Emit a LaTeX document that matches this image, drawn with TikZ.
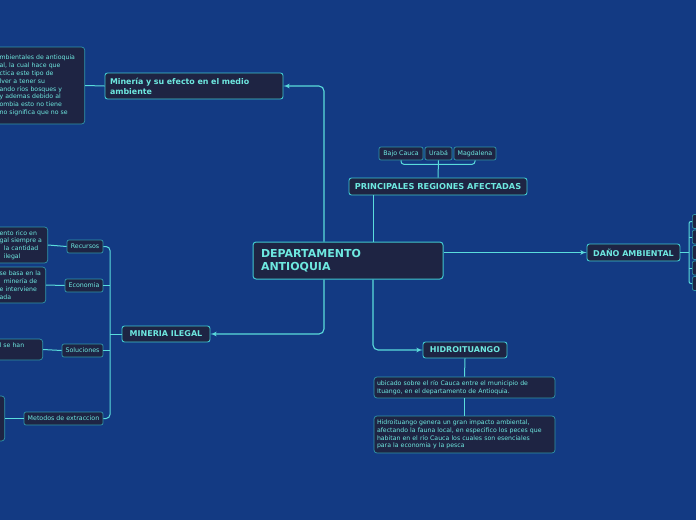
\documentclass[tikz,border=0pt]{standalone}
\usepackage{fontspec}
\setmainfont{DejaVu Sans}
\usetikzlibrary{shapes,arrows}
\definecolor{fondo}{RGB}{19,58,131}
\definecolor{caja}{RGB}{30,36,67}
\definecolor{letra}{RGB}{110,232,224}
\definecolor{borde}{RGB}{64,200,208}
\definecolor{bordechico}{RGB}{48,150,168}
\definecolor{linea}{RGB}{90,220,220}
\tikzstyle{raiz} = [rectangle, draw=borde, fill=caja, text=letra, line width=1pt,
    rounded corners=3pt, inner xsep=8pt, inner ysep=0pt, align=left,
    font=\fontsize{11}{13}\selectfont\bfseries]
\tikzstyle{tema} = [rectangle, draw=borde, fill=caja, text=letra, line width=0.9pt,
    rounded corners=2.5pt, inner sep=0pt, font=\fontsize{8}{10}\selectfont\bfseries]
\tikzstyle{etiqueta} = [rectangle, draw=bordechico, fill=caja, text=letra, line width=0.7pt,
    rounded corners=2pt, inner sep=0pt, font=\fontsize{6.3}{7.5}\selectfont]
\tikzstyle{nota} = [rectangle, draw=bordechico, fill=caja, text=letra, line width=0.7pt,
    rounded corners=3pt, inner xsep=3pt, inner ysep=0pt, align=left,
    font=\fontsize{6.2}{7.8}\selectfont]
\tikzstyle{line} = [draw=linea, line width=1.1pt, -latex']
\tikzstyle{rama} = [draw=linea, line width=1pt, rounded corners=4pt]

\begin{document}
\begin{tikzpicture}[x=1pt, y=-1pt]
    \useasboundingbox (0,0) rectangle (696,520);
    \fill [fondo] (0,0) rectangle (696,520);
    \clip (0,0) rectangle (696,520);
    % Place nodes
    \node [raiz, minimum width=190pt, minimum height=37pt, text width=174pt] (depto) at (348,260.5) {DEPARTAMENTO\\ANTIOQUIA};
    \node [tema, minimum width=178pt, minimum height=26pt, inner xsep=5pt, text width=168pt, align=left,
        font=\fontsize{7.9}{10}\selectfont\bfseries] (medio) at (194,86) {Minería y su efecto en el medio\\ambiente};
    \node [nota, anchor=east, text width=82pt, minimum height=77pt] (notamedio) at (85,85.5)
        {mbientales de antioquia\\al, la cual hace que\\ctica este tipo de\\lver a tener su\\ando ríos bosques y\\ y ademas debido al\\ombia esto no tiene\\no significa que no se};
    \node [tema, minimum width=178pt, minimum height=17pt, font=\fontsize{8.2}{10}\selectfont\bfseries] (regiones) at (438,186.5) {PRINCIPALES REGIONES AFECTADAS};
    \node [etiqueta, minimum width=44pt, minimum height=13pt] (bajo) at (401,153.5) {Bajo Cauca};
    \node [etiqueta, minimum width=27pt, minimum height=13pt] (uraba) at (438.5,153.5) {Urabá};
    \node [etiqueta, minimum width=42pt, minimum height=13pt] (magdalena) at (475,153.5) {Magdalena};
    \node [tema, minimum width=93pt, minimum height=17pt] (dano) at (633.5,252.5) {DAÑO AMBIENTAL};
    \foreach \i/\y in {1/221.5,2/237,3/252.5,4/268,5/283.5}
        \node [etiqueta, anchor=west, minimum width=30pt, minimum height=14pt] (dano\i) at (692,\y) {};
    \node [tema, minimum width=88pt, minimum height=16pt] (ilegal) at (166,334) {MINERIA ILEGAL};
    \node [etiqueta, minimum width=36pt, minimum height=13pt] (recursos) at (85,246.5) {Recursos};
    \node [etiqueta, minimum width=38pt, minimum height=13pt] (economia) at (84,285.5) {Economia};
    \node [etiqueta, minimum width=41pt, minimum height=13pt] (soluciones) at (82.5,350.5) {Soluciones};
    \node [etiqueta, minimum width=79pt, minimum height=13pt] (metodos) at (63.5,418.5) {Metodos de extraccion};
    \node [nota, anchor=east, text width=45pt, minimum height=36pt] (notarecursos) at (48,245)
        {\mbox{ento rico en}\\\mbox{gal siempre a}\\\mbox{\ \ la cantidad}\\\mbox{\ \ ilegal}};
    \node [nota, anchor=east, text width=43pt, minimum height=36pt] (notaeconomia) at (46,285)
        {\mbox{se basa en la}\\\mbox{\ \ minería de}\\\mbox{e interviene}\\ada};
    \node [nota, anchor=east, text width=40pt, minimum height=21pt] (notasoluciones) at (43,349.5)
        {l se han\\\mbox{}};
    \node [nota, anchor=east, text width=2pt, minimum height=45pt] (notametodos) at (5,418.5) {};
    \node [tema, minimum width=84pt, minimum height=16pt] (hidro) at (465,350) {HIDROITUANGO};
    \node [nota, minimum width=181pt, text width=175pt, minimum height=21pt] (ubicado) at (464.5,387.5)
        {ubicado sobre el río Cauca entre el municipio de\\Ituango, en el departamento de Antioquia.};
    \node [nota, minimum width=181pt, text width=175pt, minimum height=37pt] (impacto) at (464.5,434.5)
        {Hidroituango genera un gran impacto ambiental,\\afectando la fauna local, en especifico los peces que\\habitan en el río Cauca los cuales son esenciales\\para la economia y la pesca};
    \coordinate (mspine) at (110,334);
    \coordinate (dspine) at (689,252.5);
    % Draw edges
    \path [line, rounded corners=5pt] ([xshift=-24pt]depto.north) |- (medio.east);
    \path [line, rounded corners=5pt] ([xshift=-24pt]depto.south) |- (ilegal.east);
    \path [line, rounded corners=5pt] ([xshift=25pt]depto.south) |- (hidro.west);
    \path [line] (depto.east |- dano.west) -- (dano.west);
    \path [rama] ([xshift=25pt]depto.north) -- ([xshift=25pt]depto.north |- regiones.south);
    \path [rama] (regiones.north) -- (uraba.south);
    \path [rama, rounded corners=3pt] (bajo.south) -- ++(0,4) -| (magdalena.south);
    \path [rama] (medio.west) -- (notamedio.east);
    \path [rama] (ilegal.west) -- (mspine);
    \path [rama] (recursos.east) -- (recursos.east -| mspine) -- (metodos.east -| mspine) -- (metodos.east);
    \path [rama] (economia.east) -- (economia.east -| mspine);
    \path [rama] (soluciones.east) -- (soluciones.east -| mspine);
    \path [rama] (recursos.west) -- (notarecursos.east);
    \path [rama] (economia.west) -- (notaeconomia.east);
    \path [rama] (soluciones.west) -- (notasoluciones.east);
    \path [rama] (metodos.west) -- (notametodos.east);
    \path [rama] (hidro.south) -- (ubicado.north);
    \path [rama] (ubicado.south) -- (impacto.north);
    \path [rama] (dano.east) -- (dspine);
    \path [rama, rounded corners=2pt] (dano1.west) -| (dspine) |- (dano5.west);
    \path [rama] (dspine |- dano2.west) -- (dano2.west);
    \path [rama] (dspine |- dano4.west) -- (dano4.west);
\end{tikzpicture}
\end{document}
